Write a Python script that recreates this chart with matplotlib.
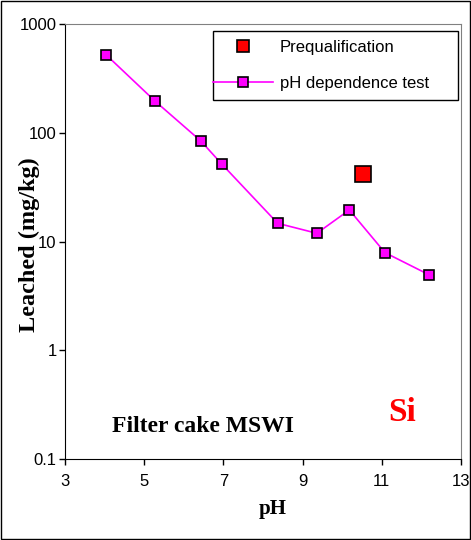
import numpy as np
import matplotlib.pyplot as plt
from matplotlib.patches import Rectangle

# pH dependence test (Si, filter cake MSWI)
ph = [4.04, 5.27, 6.43, 6.96, 8.37, 9.36, 10.18, 11.08, 12.19]
leached = [520, 196, 84, 51.5, 14.7, 11.9, 19.5, 7.9, 4.95]

# prequalification
ph_pre = [10.53]
leached_pre = [42]

xticks = [3, 5, 7, 9, 11, 13]
yticks = [0.1, 1, 10, 100, 1000]
ytick_labels = ['0.1', '1', '10', '100', '1000']

plt.rcParams['font.family'] = ['Liberation Sans', 'DejaVu Sans']

W, H = 471, 540
fig = plt.figure(figsize=(W/100, H/100), dpi=100)
ax = fig.add_axes([65/W, 1-459/H, 396/W, 435/H])

ax.plot(ph_pre, leached_pre, 's', color='red', markeredgecolor='black',
        markersize=11, markeredgewidth=1.2, label='Prequalification', zorder=3)
ax.plot(ph, leached, '-s', color='magenta', markerfacecolor='magenta',
        markeredgecolor='black', markersize=7, markeredgewidth=1.2, lw=1.2,
        label='pH dependence test', zorder=3)

ax.set_yscale('log')
ax.set_xlim(3, 13)
ax.set_ylim(0.1, 1000)
ax.set_xticks(xticks)
ax.set_xticklabels([str(t) for t in xticks])
ax.set_yticks(yticks)
ax.set_yticklabels(ytick_labels)
ax.minorticks_off()
ax.tick_params(direction='out', length=4, width=1, labelsize=12, colors='black')
ax.tick_params(axis='x', pad=7)
ax.tick_params(axis='y', pad=2)

for s in ['top', 'right']:
    ax.spines[s].set_color('#808080')
for s in ['left', 'bottom']:
    ax.spines[s].set_color('black')

ax.set_xlabel('pH', family='Liberation Serif', fontweight='bold', fontsize=15)
ax.xaxis.set_label_coords(0.525, -0.092)
ax.set_ylabel('Leached (mg/kg)', family='Liberation Serif', fontweight='bold', fontsize=17.5)
ax.yaxis.set_label_coords(-0.062, 0.492)

ax.text(0.119, 0.074, 'Filter cake MSWI', transform=ax.transAxes, family='Liberation Serif',
        fontweight='bold', fontsize=17, ha='left', va='center')
ax.text(0.851, 0.106, 'Si', transform=ax.transAxes, family='Liberation Serif',
        fontweight='bold', fontsize=24, color='red', ha='center', va='center')

# legend without its own frame; box drawn separately
leg = ax.legend(loc='upper left', bbox_to_anchor=(213/W, 1-40/H),
                bbox_transform=fig.transFigure, fontsize=12, frameon=False,
                borderpad=0, borderaxespad=0, labelspacing=1.28,
                handlelength=3.6, handletextpad=0.4)
leg.legend_handles[0].set_markersize(8)
leg.set_zorder(6)
box = Rectangle((213/W, 1-100/H), 245/W, 69/H, transform=fig.transFigure,
                facecolor='white', edgecolor='black', lw=1, zorder=5, clip_on=False)
ax.add_artist(box)

fig.patches.append(Rectangle((0.002, 0.002), 0.996, 0.996, transform=fig.transFigure,
                             fill=False, edgecolor='black', lw=1))

fig.savefig('out.png', dpi=100)
